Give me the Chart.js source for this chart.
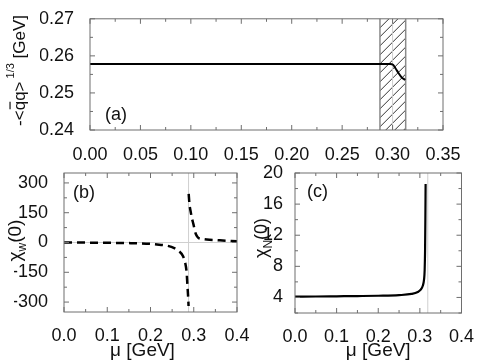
<!DOCTYPE html>
<html>
<head>
<meta charset="utf-8">
<script src="https://cdn.jsdelivr.net/npm/chart.js@4.4.1/dist/chart.umd.min.js"></script>
<style>
html,body{margin:0;padding:0;background:#fff}
#wrap{position:relative;width:479px;height:362px}
#wrap canvas{position:absolute;left:0;top:0}
</style>
</head>
<body>
<div id="wrap">
<canvas id="ca" width="479" height="362"></canvas>
<canvas id="cb" width="479" height="362"></canvas>
<canvas id="cc" width="479" height="362"></canvas>
</div>
<script>
// (a) condensate vs mu
const muA   = [0, 0.05, 0.10, 0.15, 0.20, 0.25, 0.2975, 0.3005, 0.303, 0.306, 0.309, 0.3125];
const condA = [0.2578, 0.2578, 0.2578, 0.2578, 0.2578, 0.2578, 0.2578, 0.2576, 0.2566, 0.2553, 0.2542, 0.2535];
const bandA = [0.2875, 0.313];
const xTicksA = [0, 0.05, 0.10, 0.15, 0.20, 0.25, 0.30, 0.35];
const yTicksA = [0.24, 0.25, 0.26, 0.27];

// (b) chi_w(0) vs mu  (null = break at the pole)
const muB  = [0, 0.05, 0.10, 0.15, 0.20, 0.22, 0.24, 0.255, 0.265, 0.275, 0.280, 0.2835, 0.2855, 0.2872, 0.288,
              0.2881, 0.2883, 0.2900, 0.2925, 0.2960, 0.2995, 0.303, 0.307, 0.311, 0.32, 0.33, 0.36, 0.40];
const chiW = [0, -0.5, -1.5, -3, -7, -11, -17, -28, -42, -68, -100, -150, -220, -280, -320,
              null, 245, 195, 160, 120, 90, 55, 33, 23, 18, 15, 11, 6];
const yTicksB = [-300, -150, 0, 150, 300];

// (c) chi_N(0) vs mu
const muC  = [0, 0.05, 0.10, 0.15, 0.20, 0.25, 0.28, 0.295, 0.302, 0.307, 0.310, 0.3115, 0.3125, 0.3132, 0.3138];
const chiN = [4.1, 4.12, 4.15, 4.18, 4.22, 4.3, 4.45, 4.7, 5.0, 5.5, 6.3, 7.5, 10, 14, 18.6];
const yTicksC = [4, 8, 12, 16, 20];

const xTicksBC = [0, 0.1, 0.2, 0.3, 0.4];

const FONT = '"Liberation Sans", Arial, sans-serif';
const INK = '#111';
const FRAME = '#6e6e6e';

function rich(ctx, parts, cx, cy, rot) {
  ctx.save();
  ctx.translate(cx, cy);
  if (rot) ctx.rotate(-Math.PI / 2);
  let w = 0;
  parts.forEach(p => { ctx.font = p.s + 'px ' + FONT; p.w = ctx.measureText(p.t).width; w += p.w; });
  let x = -w / 2;
  ctx.fillStyle = INK;
  ctx.strokeStyle = INK;
  ctx.textBaseline = 'alphabetic';
  parts.forEach(p => {
    ctx.font = p.s + 'px ' + FONT;
    ctx.fillText(p.t, x, 6 + (p.dy || 0));
    if (p.bar) {
      ctx.lineWidth = 1.2;
      ctx.beginPath();
      ctx.moveTo(x + 1, 6 - p.s * 0.88);
      ctx.lineTo(x + p.w - 1, 6 - p.s * 0.88);
      ctx.stroke();
    }
    x += p.w;
  });
  ctx.restore();
}

function seg(ctx, x1, y1, x2, y2) {
  ctx.beginPath(); ctx.moveTo(x1, y1); ctx.lineTo(x2, y2); ctx.stroke();
}

function steps(min, max, step) {
  const out = [];
  let v = Math.ceil(min / step - 1e-9) * step;
  for (; v <= max + 1e-9; v += step) out.push(v);
  return out;
}

const deco = {
  id: 'deco',
  beforeDatasetsDraw(chart, args, o) {
    const {ctx, chartArea: a, scales: {x, y}} = chart;
    ctx.save();
    if (o.band) {
      const x1 = x.getPixelForValue(o.band[0]), x2 = x.getPixelForValue(o.band[1]);
      ctx.save();
      ctx.beginPath(); ctx.rect(x1, a.top, x2 - x1, a.height); ctx.clip();
      ctx.strokeStyle = '#333'; ctx.lineWidth = 1;
      for (let k = x1 - a.height; k < x2 + 10; k += 9) seg(ctx, k, a.bottom, k + a.height, a.top);
      ctx.restore();
      ctx.strokeStyle = '#8a8a8a'; ctx.lineWidth = 1.5;
      seg(ctx, x1, a.top, x1, a.bottom);
      seg(ctx, x2, a.top, x2, a.bottom);
    }
    ctx.strokeStyle = '#cfcfcf'; ctx.lineWidth = 1;
    (o.vlines || []).forEach(v => { const p = x.getPixelForValue(v); seg(ctx, p, a.top, p, a.bottom); });
    (o.hlines || []).forEach(v => { const p = y.getPixelForValue(v); seg(ctx, a.left, p, a.right, p); });
    ctx.restore();
  },
  afterDatasetsDraw(chart, args, o) {
    const {ctx, chartArea: a, scales: {x, y}} = chart;
    ctx.save();
    ctx.strokeStyle = FRAME; ctx.lineWidth = 1;
    ctx.strokeRect(a.left, a.top, a.width, a.height);
    const isMaj = (v, m) => Math.abs(v / m - Math.round(v / m)) < 1e-6;
    steps(x.min, x.max, o.xMinor).forEach(v => {
      const p = x.getPixelForValue(v), L = isMaj(v, o.xMajor) ? 5 : 3;
      seg(ctx, p, a.bottom, p, a.bottom - L);
      seg(ctx, p, a.top, p, a.top + L);
    });
    steps(y.min, y.max, o.yMinor).forEach(v => {
      const p = y.getPixelForValue(v), L = isMaj(v, o.yMajor) ? 5 : 3;
      seg(ctx, a.left, p, a.left + L, p);
      seg(ctx, a.right, p, a.right - L, p);
    });
    ctx.fillStyle = INK;
    ctx.font = '18px ' + FONT;
    ctx.textBaseline = 'middle';
    ctx.fillText(o.tag, a.left + o.tagDx, a.top + o.tagDy);
    rich(ctx, o.yTitle.parts, o.yTitle.x, (a.top + a.bottom) / 2 + (o.yTitle.dy || 0), true);
    if (o.xTitle) rich(ctx, o.xTitle.parts, (a.left + a.right) / 2 + (o.xTitle.dx || 0), o.xTitle.y, false);
    ctx.restore();
  }
};

const pts = (xs, ys) => xs.map((v, i) => ({x: v, y: ys[i]}));
const fixTicks = arr => s => { s.ticks = arr.map(v => ({value: v})); };

function makeChart(id, cfg) {
  return new Chart(document.getElementById(id), {
    type: 'line',
    data: {datasets: [{
      data: pts(cfg.xs, cfg.ys),
      borderColor: '#000',
      borderWidth: cfg.lw,
      borderDash: cfg.dash || [],
      pointRadius: 0,
      cubicInterpolationMode: 'monotone',
      spanGaps: false
    }]},
    options: {
      responsive: false,
      animation: false,
      events: [],
      layout: {padding: cfg.pad},
      plugins: {legend: {display: false}, tooltip: {enabled: false}, deco: cfg.deco},
      scales: {
        x: {
          type: 'linear', min: cfg.xr[0], max: cfg.xr[1],
          grid: {display: false}, border: {display: false},
          afterBuildTicks: fixTicks(cfg.xt),
          afterFit: s => { s.height = 30; },
          ticks: {color: INK, font: {family: FONT, size: 18}, padding: cfg.xpad, autoSkip: false, maxRotation: 0,
                  callback: v => v.toFixed(cfg.xdec)}
        },
        y: {
          min: cfg.yr[0], max: cfg.yr[1],
          grid: {display: false}, border: {display: false},
          afterBuildTicks: fixTicks(cfg.yt),
          afterFit: s => { s.width = cfg.yw; },
          ticks: {color: INK, font: {family: FONT, size: 18}, padding: cfg.ypad,
                  callback: v => v.toFixed(cfg.ydec)}
        }
      }
    },
    plugins: [deco]
  });
}

// (a)
makeChart('ca', {
  xs: muA, ys: condA, lw: 2,
  xr: [0, 0.35], yr: [0.24, 0.27], xt: xTicksA, yt: yTicksA, xdec: 2, ydec: 2, xpad: 6, ypad: 8, yw: 50,
  pad: {left: 40, right: 36, top: 16, bottom: 202},
  deco: {
    xMinor: 0.025, xMajor: 0.05, yMinor: 0.005, yMajor: 0.01,
    band: bandA, vlines: [0.300],
    tag: '(a)', tagDx: 15, tagDy: 96,
    yTitle: {x: 19, dy: -4, parts: [
      {t: '-<', s: 17}, {t: 'q', s: 17, bar: true}, {t: 'q>', s: 17},
      {t: ' 1/3', s: 11, dy: -11}, {t: ' [GeV]', s: 17}]}
  }
});

// (b)
makeChart('cb', {
  xs: muB, ys: chiW, lw: 2.5, dash: [8, 5],
  xr: [0, 0.4], yr: [-350, 350], xt: xTicksBC, yt: yTicksB, xdec: 1, ydec: 0, xpad: 5, ypad: 8, yw: 50,
  pad: {left: 14, right: 242, top: 173, bottom: 20},
  deco: {
    xMinor: 0.05, xMajor: 0.1, yMinor: 75, yMajor: 150,
    vlines: [0.288], hlines: [0],
    tag: '(b)', tagDx: 9, tagDy: 20,
    yTitle: {x: 15, dy: -2, parts: [{t: 'χ', s: 19}, {t: 'w', s: 12, dy: 5}, {t: '(0)', s: 19}]},
    xTitle: {y: 350, dx: -8, parts: [{t: 'μ [GeV]', s: 19}]}
  }
});

// (c)
makeChart('cc', {
  xs: muC, ys: chiN, lw: 2.2,
  xr: [0, 0.4], yr: [2, 20], xt: xTicksBC, yt: yTicksC, xdec: 1, ydec: 0, xpad: 5, ypad: 4, yw: 40,
  pad: {left: 255, right: 15, top: 173, bottom: 19},
  deco: {
    xMinor: 0.05, xMajor: 0.1, yMinor: 2, yMajor: 4,
    vlines: [0.319],
    tag: '(c)', tagDx: 12, tagDy: 19,
    yTitle: {x: 261, dy: -5, parts: [{t: 'χ', s: 18}, {t: 'N', s: 12, dy: 5}, {t: '(0)', s: 18}]},
    xTitle: {y: 350, dx: 0, parts: [{t: 'μ [GeV]', s: 19}]}
  }
});
</script>
</body>
</html>
